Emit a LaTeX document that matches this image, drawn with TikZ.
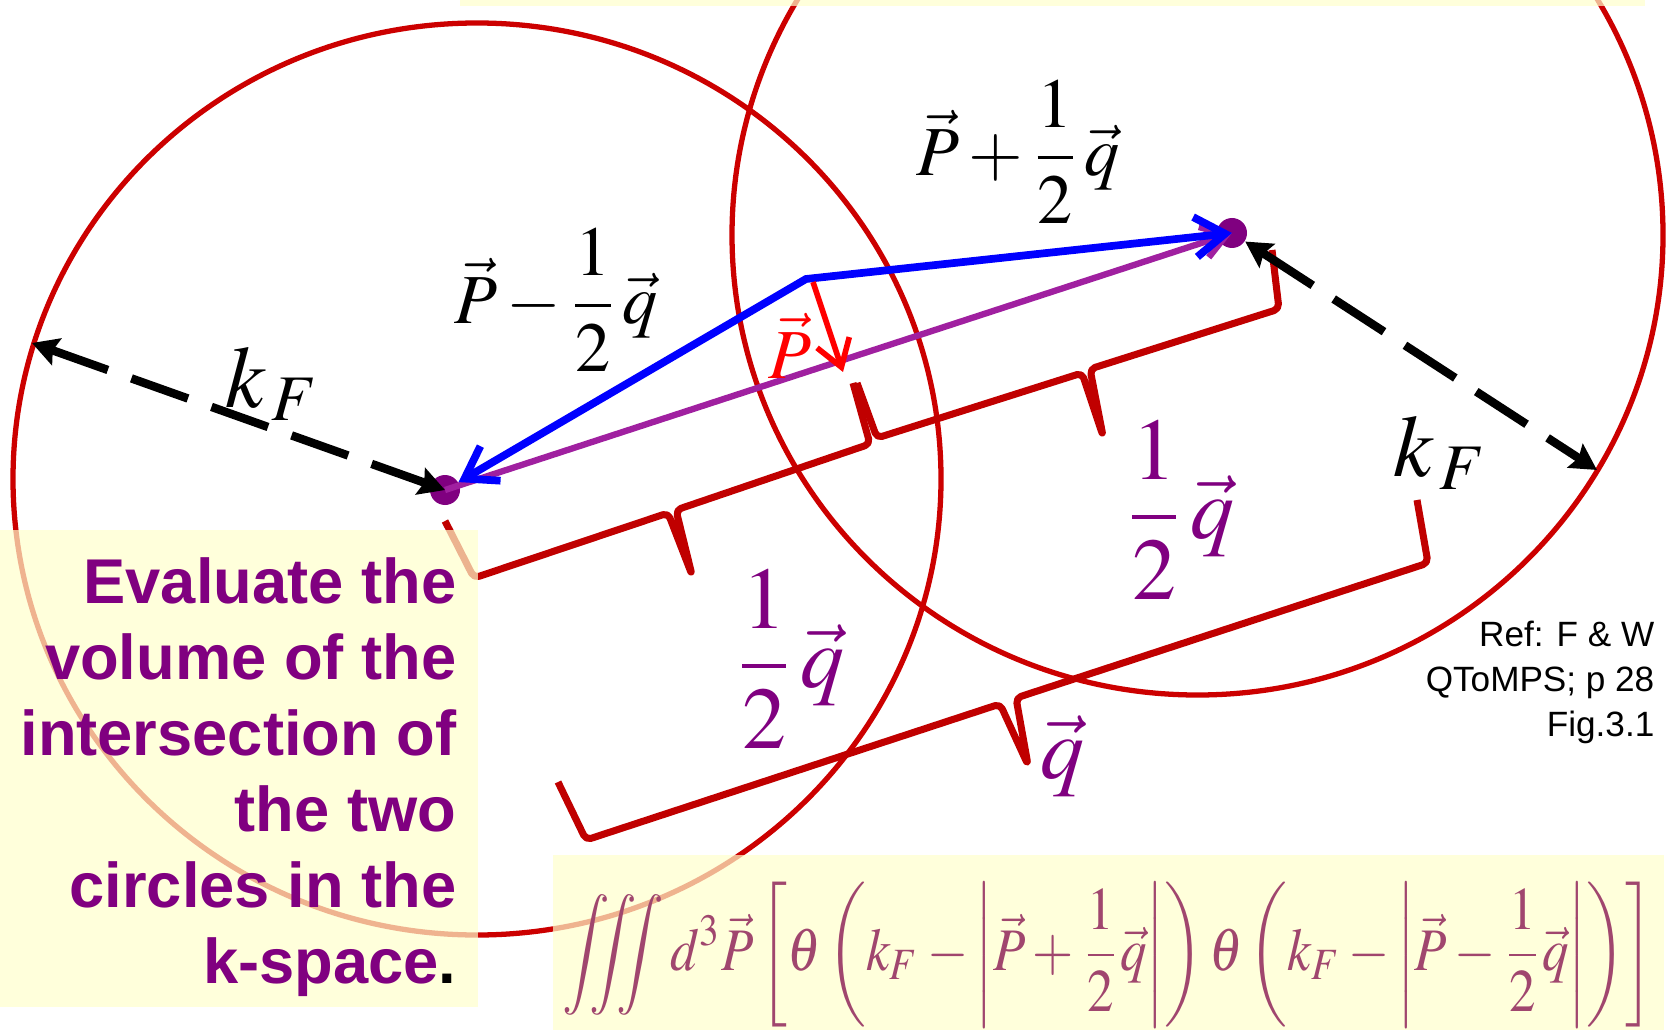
\documentclass[tikz,border=0pt]{standalone}
\usepackage{amsmath}
\usepackage{mathptmx}
\usepackage{graphicx}
\usepackage[no-math]{fontspec}
\setsansfont{Liberation Sans}
\usetikzlibrary{arrows.meta}
\definecolor{circred}{RGB}{204,0,0}
\definecolor{bracered}{RGB}{192,0,0}
\definecolor{vecpurple}{RGB}{160,32,160}
\definecolor{notepurple}{RGB}{128,0,128}
\definecolor{boxyellow}{RGB}{255,255,204}
\definecolor{formulacol}{RGB}{160,70,110}
\begin{document}
\begin{tikzpicture}[
  kcircle/.style={circred, line width=1.5pt},
  kbrace/.style={bracered, line width=2pt, rounded corners=1.5pt, line join=round},
  bluevec/.style={blue, line width=2.2pt, line join=miter, {Straight Barb[length=3mm,width=4mm]}-{Straight Barb[length=3mm,width=4mm]}},
  purplevec/.style={vecpurple, line width=1.8pt, -{Straight Barb[length=2.4mm,width=3.2mm]}},
  redvec/.style={red, line width=1.6pt, -{Straight Barb[length=2.6mm,width=3.4mm]}},
  kfarrow/.style={line width=2.4pt, dash pattern=on 6mm off 2.5mm, {Stealth[length=2.6mm,width=2.8mm,inset=0.4mm]}-{Stealth[length=2.6mm,width=2.8mm,inset=0.4mm]}},
  kdot/.style={circle, fill=notepurple, inner sep=0pt, minimum size=3mm},
  yellowbox/.style={boxyellow, fill opacity=0.7},
  blacklab/.style={font=\fontsize{20}{24}\selectfont},
  kflab/.style={font=\fontsize{25}{30}\selectfont},
  halflab/.style={text=notepurple, font=\fontsize{25}{30}\selectfont}
]
\useasboundingbox (0,0) rectangle (16.69,10.30);
\fill[white] (0,0) rectangle (16.69,10.30);
\clip (0,0) rectangle (16.69,10.30);

% the two Fermi spheres
\draw[kcircle] (4.77,5.51) ellipse (4.64 and 4.56);
\draw[kcircle] (11.975,7.95) ellipse (4.655 and 4.60);

% braces
\draw[kbrace] (8.57,6.47) -- (8.77,5.92) -- (10.82,6.57) -- (11.03,5.94) -- (10.90,6.61) -- (12.79,7.21) -- (12.72,7.80);
\draw[kbrace] (4.45,5.09) -- (4.74,4.52) -- (6.68,5.17) -- (6.92,4.55) -- (6.76,5.20) -- (8.70,5.86) -- (8.53,6.47);
\draw[kbrace] (5.58,2.48) -- (5.86,1.90) -- (10.00,3.26) -- (10.28,2.65) -- (10.16,3.32) -- (14.28,4.67) -- (14.17,5.30);

% points and vectors
\node[kdot] (ldot) at (4.45,5.40) {};
\node[kdot] (rdot) at (12.32,7.97) {};
\coordinate (kink) at (8.06,7.51);
\coordinate (ptip) at (8.43,6.58);
\coordinate (ledge) at (0.32,6.87);
\coordinate (redge) at (15.97,5.60);

\draw[purplevec] (ldot.center) -- (rdot.center);
\draw[bluevec] (ldot) -- (kink) -- (rdot.center);
\draw[redvec] ([shift={(0.07,-0.03)}]kink) -- (ptip);
\draw[kfarrow] (ledge) -- (ldot.center);
\draw[kfarrow] (rdot) -- (redge);

% yellow panels
\fill[yellowbox] (0,0.23) rectangle (4.78,5.00);
\fill[yellowbox] (5.53,0) rectangle (16.64,1.75);
\fill[yellowbox] (4.60,10.24) rectangle (16.45,10.30);

% labels
\node[blacklab] (pminus) at (5.56,7.30) {$\vec P-\dfrac{1}{2}\,\vec q$};
\node[blacklab] (pplus) at (10.18,8.78) {$\vec P+\dfrac{1}{2}\,\vec q$};
\node[blacklab, text=red] (plab) at (7.90,6.84) {$\vec P$};
\node[kflab] (kfleft) at (2.72,6.46) {$k_{\,F}$};
\node[kflab] (kfright) at (14.40,5.77) {$k_{\,F}$};
\node[halflab] (halfa) at (11.81,5.20) {$\dfrac{1}{2}\,\vec q$};
\node[halflab] (halfb) at (7.91,3.71) {$\dfrac{1}{2}\,\vec q$};
\node[halflab] (qlab) at (10.62,2.74) {$\vec q$};

\node[anchor=north east, inner sep=0pt, align=right, text=notepurple,
      font=\fontsize{18}{21.6}\selectfont\sffamily\bfseries] (note) at (4.57,4.73)
  {Evaluate the\\volume of the\\intersection of\\the two\\circles in the\\k-space\textcolor{black}{.}};
\node[anchor=north east, inner sep=0pt, align=right,
      font=\fontsize{10}{12.8}\selectfont\sffamily] (ref) at (16.55,4.10)
  {Ref: F \& W\\QToMPS; p 28\\Fig.3.1};

\node[inner sep=0pt, text=formulacol] (integral) at (11.08,0.75)
  {\resizebox*{10.9cm}{1.45cm}{$\displaystyle \iiint d^3\vec P\left[\theta\left(k_F-\left|\vec P+\frac{1}{2}\vec q\right|\right)\theta\left(k_F-\left|\vec P-\frac{1}{2}\vec q\right|\right)\right]$}};
\end{tikzpicture}
\end{document}
